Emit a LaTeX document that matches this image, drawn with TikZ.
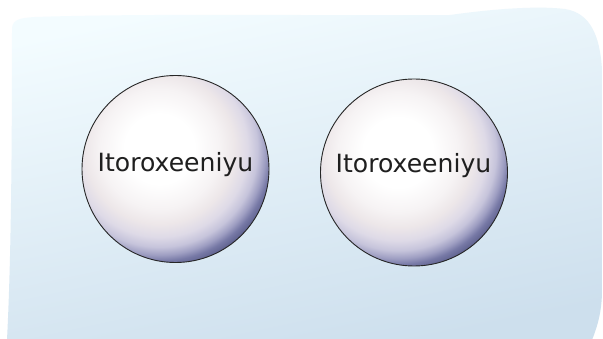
\documentclass[tikz,border=0pt]{standalone}
\usepackage{fontspec}
\setmainfont{DejaVu Sans}
\definecolor{bgtop}{HTML}{F3FCFF}
\definecolor{bgmid}{HTML}{E3F5FC}
\definecolor{bgbot}{HTML}{CDDFED}
\definecolor{bla}{HTML}{F6F3F4}
\definecolor{blb}{HTML}{EDE7E9}
\definecolor{blc}{HTML}{DEDAE7}
\definecolor{bld}{HTML}{C6C4DB}
\definecolor{ble}{HTML}{9E9EC2}
\definecolor{blf}{HTML}{7779A6}
\definecolor{blg}{HTML}{5A5D8A}
\pgfdeclareradialshading{myballabs}{\pgfpoint{0pt}{0pt}}{%
color(0pt)=(white); color(35pt)=(white); color(60pt)=(bla); color(75pt)=(blb);
color(88pt)=(blc); color(98pt)=(bld); color(106pt)=(ble); color(112pt)=(blf); color(120pt)=(blg)}
\tikzset{
  ballnode/.style={circle, draw=black!85, line width=0.9pt,
    minimum size=187pt, inner sep=0pt},
  shadenode/.style={inner sep=0pt, outer sep=0pt},
  lbl/.style={font=\fontsize{25.1}{30}\selectfont, text=black!88, inner sep=0pt, anchor=base}
}
\begin{document}
\begin{tikzpicture}[x=1pt,y=-1pt]
\useasboundingbox (0,0) rectangle (603,339);
\fill[white] (0,0) rectangle (603,339);
\shade[top color=bgtop, middle color=bgmid, bottom color=bgbot, shading angle=12]
  (12,32) .. controls (11,20) and (18,18) .. (35,17)
  .. controls (150,13) and (350,16) .. (450,15)
  .. controls (500,8) and (540,6) .. (565,9)
  .. controls (590,13) and (600,35) .. (602,70)
  -- (602,290) .. controls (602,310) and (598,325) .. (592,340)
  -- (7,340) .. controls (10,280) and (12,200) .. cycle;
\coordinate (p1) at (175.5,169);
\coordinate (p2) at (414,172.5);
\begin{scope}
  \clip (p1) circle (93.5);
  \node[shadenode] (s1) at ([shift={(-16,-20)}]p1) {\pgfuseshading{myballabs}};
\end{scope}
\begin{scope}
  \clip (p2) circle (93.5);
  \node[shadenode] (s2) at ([shift={(-16,-20)}]p2) {\pgfuseshading{myballabs}};
\end{scope}
\node[ballnode] (c1) at (p1) {};
\node[ballnode] (c2) at (p2) {};
\node[lbl] (t1) at ([yshift=-3pt]c1.center) {Itoroxeeniyu};
\node[lbl] (t2) at ([xshift=-0.5pt]c2.center) {Itoroxeeniyu};
\end{tikzpicture}
\end{document}
